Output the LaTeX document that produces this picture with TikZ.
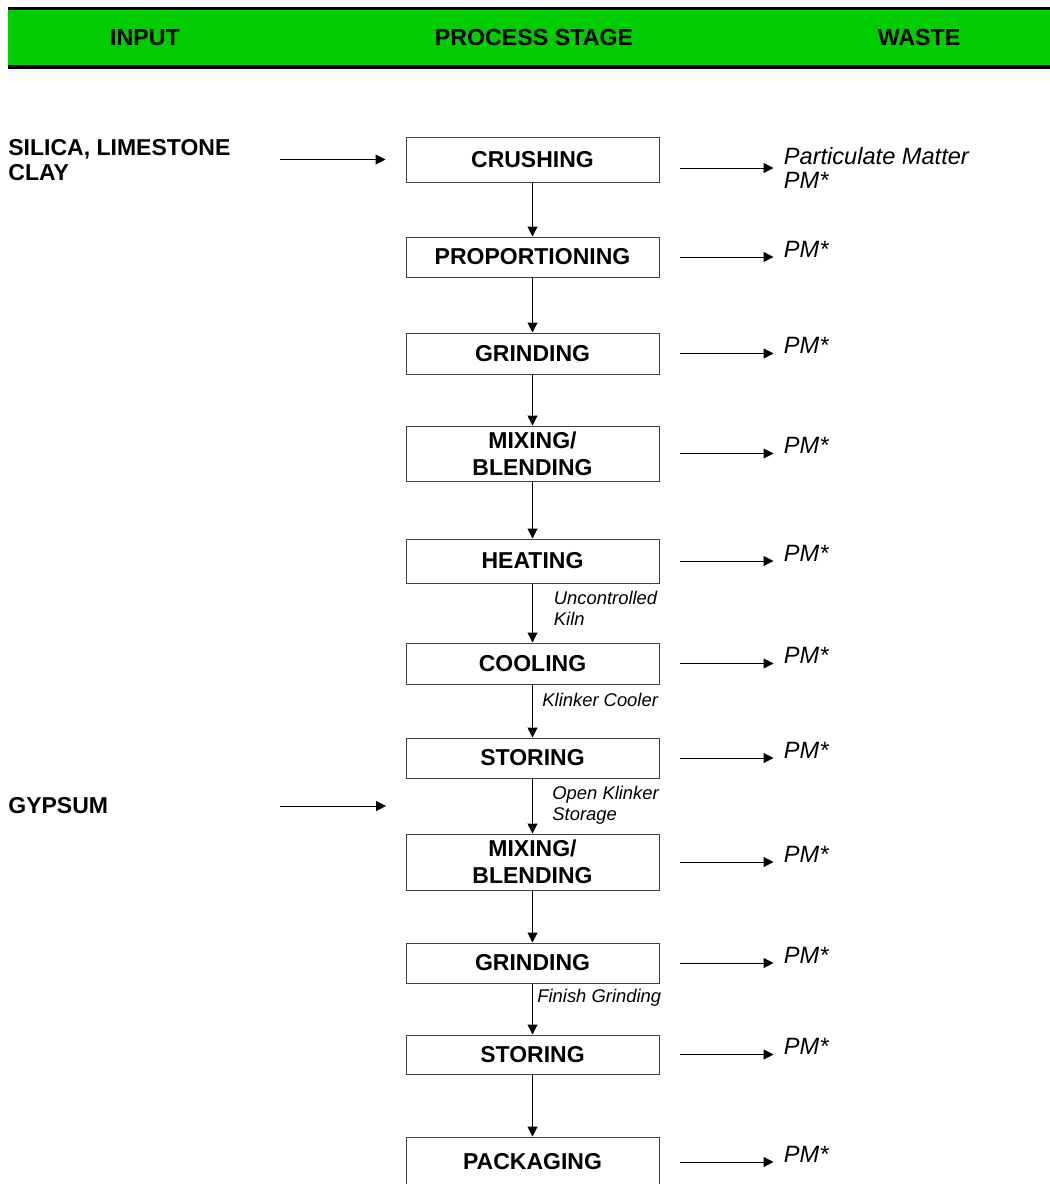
\documentclass[tikz,border=0pt]{standalone}
\usepackage{fontspec}
\setmainfont{Liberation Sans}
\usetikzlibrary{positioning, arrows.meta}
\definecolor{hdrgreen}{RGB}{0,204,0}

\begin{document}
\begin{tikzpicture}[
	x=0.5pt, y=-0.5pt,
	% Define styles
	header/.style={font=\fontsize{11.6}{14}\selectfont\bfseries},
	stage/.style={rectangle, draw=black!75, line width=0.5pt, fill=white, minimum width=126.5pt, minimum height=20.5pt, inner sep=1pt, align=center, font=\fontsize{11.5}{13.5}\selectfont\bfseries},
	feed/.style={anchor=west, align=left, inner sep=0pt, font=\fontsize{11.5}{12.5}\selectfont\bfseries},
	waste/.style={anchor=west, align=left, inner sep=0pt, font=\fontsize{11.8}{12}\selectfont\itshape},
	note/.style={align=left, inner sep=0pt, font=\fontsize{9.2}{10.5}\selectfont\itshape},
	arrow/.style={-{Triangle[length=5pt, width=5pt]}, line width=0.5pt}
	]
	\useasboundingbox (0,0) rectangle (1050,1184);
	
	% 1. Header bar
	\fill[hdrgreen] (8,9) rectangle (1050,66);
	\draw[line width=1.5pt] (8,8.5) -- (1050,8.5);
	\draw[line width=2pt] (8,67) -- (1050,67);
	\node[header] (hinput) at (145,37.5) {INPUT};
	\node[header] (hstage) at (534,37.5) {PROCESS STAGE};
	\node[header] (hwaste) at (919,37.5) {WASTE};
	
	% 2. Process stages
	\node[stage, minimum height=22.5pt] (crush) at (532.5,159.5) {CRUSHING};
	\node[stage, minimum height=20pt] (prop) at (532.5,257) {PROPORTIONING};
	\node[stage] (grindA) at (532.5,353.5) {GRINDING};
	\node[stage, minimum height=27.5pt] (mixA) at (532.5,453.5) {MIXING/\\BLENDING};
	\node[stage, minimum height=22pt] (heat) at (532.5,561) {HEATING};
	\node[stage] (cool) at (532.5,663.5) {COOLING};
	\node[stage, minimum height=20pt] (storeA) at (532.5,758) {STORING};
	\node[stage, minimum height=28pt] (mixB) at (532.5,862) {MIXING/\\BLENDING};
	\node[stage, minimum height=20pt] (grindB) at (532.5,963) {GRINDING};
	\node[stage, minimum height=19.5pt] (storeB) at (532.5,1054.5) {STORING};
	\node[stage, minimum height=25pt] (pack) at (532.5,1162) {PACKAGING};
	
	% Flow between stages
	\foreach \a/\b in {crush/prop, prop/grindA, grindA/mixA, mixA/heat, heat/cool, cool/storeA, storeA/mixB, mixB/grindB, grindB/storeB, storeB/pack}
		\draw[arrow] (\a) -- (\b);
	
	% Notes on the flow
	\node[note, below right=3.5pt and 10.5pt of heat.south] (kiln) {Uncontrolled\\Kiln};
	\node[note, below right=4pt and 4.75pt of cool.south] (cooler) {Klinker Cooler};
	\node[note, below right=3.5pt and 9.75pt of storeA.south] (storage) {Open Klinker\\Storage};
	\node[note, below right=2.5pt and 2.25pt of grindB.south] (finish) {Finish Grinding};
	
	% 3. Inputs
	\node[feed] (silica) at (8,160) {SILICA, LIMESTONE\\CLAY};
	\coordinate[left=63pt of crush.west] (silicatail);
	\draw[arrow, shorten >=10pt] (silicatail) -- (crush.west);
	\node[feed] (gypsum) at (8,806) {GYPSUM};
	\coordinate (gypsumtail) at (280,806);
	\coordinate (gypsumhead) at (386,806);
	\draw[arrow] (gypsumtail) -- (gypsumhead);
	
	% 4. Waste
	\node[waste] (wcrush) at ([xshift=62pt, yshift=-4.25pt]crush.east) {Particulate Matter\\PM*};
	\draw[arrow] ([xshift=10pt, yshift=-4.25pt]crush.east) -- ([xshift=-5pt]wcrush.west);
	\foreach \s in {prop, grindA, mixA, heat, cool, storeA, mixB, grindB, storeB, pack}{
		\node[waste, right=62pt of \s.east, anchor=base west] (w\s) {PM*};
		\draw[arrow] ([xshift=10pt]\s.east) -- ([xshift=-5pt]w\s.base west);
	}
\end{tikzpicture}
\end{document}
